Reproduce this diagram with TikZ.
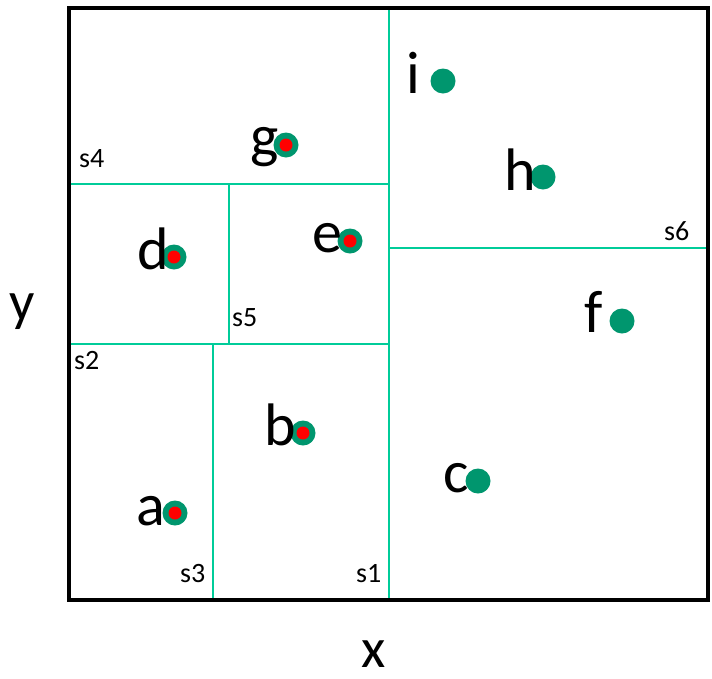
\documentclass[tikz,border=0pt]{standalone}
\usepackage{fontspec}
\setmainfont{Carlito}
\usetikzlibrary{positioning}
\definecolor{splitcol}{RGB}{0,204,153}
\definecolor{dotcol}{RGB}{0,150,110}

\begin{document}
\begin{tikzpicture}[
    x=1pt, y=-1pt,
    frame/.style={draw=black, line width=4pt},
    split/.style={draw=splitcol, line width=1.6pt},
    ptdot/.style={circle, fill=dotcol, minimum size=25pt, inner sep=0pt},
    hitdot/.style={circle, fill=red, minimum size=13pt, inner sep=0pt},
    ptlabel/.style={anchor=base east, inner sep=0pt, font=\fontsize{60}{66}\selectfont},
    slabel/.style={anchor=base west, inner sep=0pt, font=\fontsize{28}{32}\selectfont},
    axlabel/.style={anchor=base, inner sep=0pt, font=\fontsize{56}{62}\selectfont}
]
    \useasboundingbox (0,0) rectangle (712,678);

    % Split lines
    \coordinate (nw) at (69,8);
    \coordinate (se) at (708,600);
    \draw[split] (389,8) -- (389,600);      % s1
    \draw[split] (69,344) -- (389,344);     % s2
    \draw[split] (213,344) -- (213,600);    % s3
    \draw[split] (69,184) -- (389,184);     % s4
    \draw[split] (229,184) -- (229,344);    % s5
    \draw[split] (389,248) -- (708,248);    % s6

    % Outer frame
    \draw[frame] (nw) rectangle (se);

    % Split labels
    \node[slabel] (ls1) at (356,582) {s1};
    \node[slabel] (ls2) at (74,369) {s2};
    \node[slabel] (ls3) at (180,582) {s3};
    \node[slabel] (ls4) at (79,167) {s4};
    \node[slabel] (ls5) at (232,326) {s5};
    \node[slabel] (ls6) at (664,240) {s6};

    % Points
    \node[ptdot] (pa) at (175,513) {};
    \node[ptdot] (pb) at (303,433) {};
    \node[ptdot] (pc) at (478,481) {};
    \node[ptdot] (pd) at (174,257) {};
    \node[ptdot] (pe) at (350,241) {};
    \node[ptdot] (pf) at (622,321) {};
    \node[ptdot] (pg) at (286,145) {};
    \node[ptdot] (ph) at (543,177) {};
    \node[ptdot] (pi) at (443,81) {};

    % Points found by the query
    \node[hitdot] (ha) at (pa) {};
    \node[hitdot] (hb) at (pb) {};
    \node[hitdot] (hd) at (pd) {};
    \node[hitdot] (he) at (pe) {};
    \node[hitdot] (hg) at (pg) {};

    % Point labels
    \node[ptlabel] (la) at ([xshift=-10pt, yshift=-12pt]pa.center) {a};
    \node[ptlabel] (lb) at ([xshift=-7pt, yshift=-12pt]pb.center) {b};
    \node[ptlabel] (lc) at ([xshift=-9pt, yshift=-11pt]pc.center) {c};
    \node[ptlabel] (ld) at ([xshift=-5pt, yshift=-12pt]pd.center) {d};
    \node[ptlabel] (le) at ([xshift=-7pt, yshift=-11pt]pe.center) {e};
    \node[ptlabel] (lf) at ([xshift=-19pt, yshift=-11pt]pf.center) {f};
    \node[ptlabel] (lg) at ([xshift=-7pt, yshift=-11pt]pg.center) {g};
    \node[ptlabel] (lh) at ([xshift=-7pt, yshift=-13pt]ph.center) {h};
    \node[ptlabel] (li) at ([xshift=-23pt, yshift=-12pt]pi.center) {i};

    % Axis labels
    \node[axlabel] (ylab) at (22,320) {y};
    \node[axlabel] (xlab) at (374,667) {x};
\end{tikzpicture}
\end{document}
